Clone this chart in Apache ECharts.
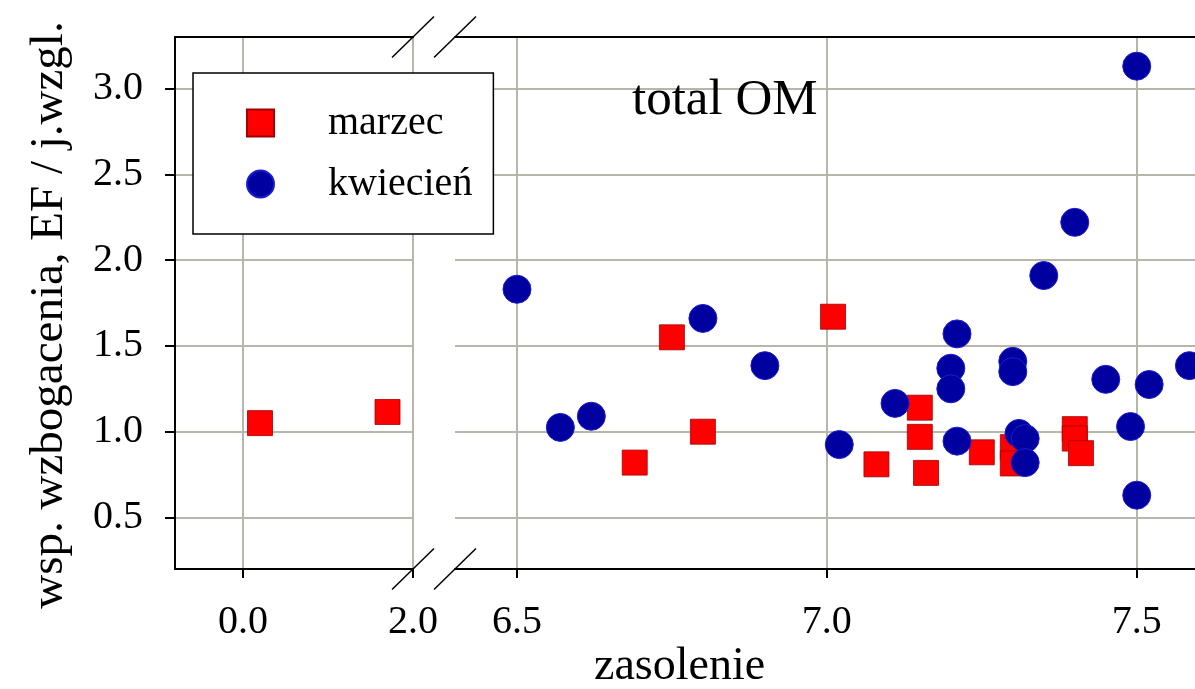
<!DOCTYPE html>
<html><head><meta charset="utf-8">
<script src="https://cdn.jsdelivr.net/npm/echarts@6/dist/echarts.min.js"></script>
<style>html,body{margin:0;padding:0;background:#fff}#c{width:1195px;height:689px}</style>
</head><body><div id="c"></div>
<script>
// ---- data ----
const marzecLeftX  = [0.20, 1.70];
const marzecLeftY  = [1.05, 1.115];
const marzecRightX = [6.69, 6.75, 6.80, 7.01, 7.08, 7.15, 7.15, 7.16, 7.25, 7.30, 7.30, 7.40, 7.40, 7.41];
const marzecRightY = [0.82, 1.55, 1.00, 1.67, 0.81, 1.14, 0.97, 0.76, 0.88, 0.91, 0.815, 1.015, 0.96, 0.875];
const kwiecienX = [6.50, 6.57, 6.62, 6.80, 6.90, 7.02, 7.11, 7.20, 7.20, 7.21, 7.21, 7.30, 7.30, 7.31, 7.32, 7.32, 7.35, 7.40, 7.45, 7.49, 7.50, 7.50, 7.52, 7.585];
const kwiecienY = [1.83, 1.025, 1.09, 1.66, 1.385, 0.925, 1.165, 1.37, 1.25, 1.57, 0.945, 1.41, 1.35, 0.99, 0.96, 0.82, 1.91, 2.22, 1.305, 1.03, 0.63, 3.13, 1.275, 1.385];
const xTicksLeft  = [0, 2];
const xTicksRight = [6.5, 7.0, 7.5];
const yTicks = [0.5, 1.0, 1.5, 2.0, 2.5, 3.0];
const seriesNames = ['marzec', 'kwiecień'];
const titleText = 'total OM';
const xName = 'zasolenie';
const yName = 'wsp. wzbogacenia, EF / j.wzgl.';

// ---- layout / style ----
const FONT = 'Liberation Serif';
const G0 = {left: 175, top: 37, width: 238, height: 532};
const G1 = {left: 455, top: 37, right: 0, height: 532};
const X1_MIN = 6.4, X1_MAX = 7.594;
const GRID_COLOR = '#b6b6aa';
const zip = (xs, ys) => xs.map((x, i) => [x, ys[i]]);
const fmt = v => Number(v).toFixed(1);

function bottomX(gi, min, max, ticks) {
  return {
    type: 'value', gridIndex: gi, position: 'bottom', min: min, max: max,
    axisLine: {show: true, onZero: false, lineStyle: {color: '#000', width: 2}},
    axisTick: {show: true, inside: false, length: 9, customValues: ticks, lineStyle: {color: '#000', width: 2}},
    axisLabel: {show: true, customValues: ticks, formatter: fmt, fontFamily: FONT, fontSize: 40, color: '#000', margin: 33},
    splitLine: {show: true, lineStyle: {color: GRID_COLOR, width: 2}}
  };
}
function topX(gi, min, max) {
  return {
    type: 'value', gridIndex: gi, position: 'top', min: min, max: max,
    axisLine: {show: true, onZero: false, lineStyle: {color: '#000', width: 2}},
    axisTick: {show: false}, axisLabel: {show: false}, splitLine: {show: false}
  };
}
function slash(cx, cy) {
  return {type: 'line', z: 100, silent: true,
    shape: {x1: cx - 21, y1: cy + 20.5, x2: cx + 21, y2: cy - 20.5},
    style: {stroke: '#000', lineWidth: 1.5}};
}
const breakL = G0.left + G0.width, breakR = G1.left;
const topY = G0.top, botY = G0.top + G0.height;

const option = {
  animation: false,
  backgroundColor: '#fff',
  textStyle: {fontFamily: FONT},
  title: [
    {text: titleText, left: 632, top: 75, padding: 0,
     textStyle: {fontFamily: FONT, fontSize: 51, fontWeight: 'normal', color: '#000'}},
    {text: xName, left: 594, top: 644, padding: 0,
     textStyle: {fontFamily: FONT, fontSize: 46, fontWeight: 'normal', color: '#000'}}
  ],
  legend: {
    orient: 'vertical', left: 193, top: 73, padding: [30, 21, 30, 53],
    itemWidth: 27, itemHeight: 27, itemGap: 21,
    borderColor: '#000', borderWidth: 1.5, backgroundColor: '#fff',
    selectedMode: false, data: seriesNames,
    textStyle: {fontFamily: FONT, fontSize: 40, color: '#000', lineHeight: 27, padding: [0, 0, 0, 49]}
  },
  grid: [
    Object.assign({}, G0, {containLabel: false}),
    Object.assign({}, G1, {containLabel: false})
  ],
  xAxis: [
    bottomX(0, -0.8, 2.0, xTicksLeft),
    bottomX(1, X1_MIN, X1_MAX, xTicksRight),
    topX(0, -0.8, 2.0),
    topX(1, X1_MIN, X1_MAX)
  ],
  yAxis: [
    {type: 'value', gridIndex: 0, min: 0.2, max: 3.3,
     name: yName, nameLocation: 'middle', nameRotate: 90, nameGap: 102,
     nameTextStyle: {fontFamily: FONT, fontSize: 47, color: '#000', padding: [0, 24, 0, 0]},
     axisLine: {show: true, onZero: false, lineStyle: {color: '#000', width: 2}},
     axisTick: {show: true, inside: false, length: 10, customValues: yTicks, lineStyle: {color: '#000', width: 2}},
     axisLabel: {show: true, customValues: yTicks, formatter: fmt, fontFamily: FONT, fontSize: 40, color: '#000', margin: 32},
     splitLine: {show: true, lineStyle: {color: GRID_COLOR, width: 2}}},
    {type: 'value', gridIndex: 1, min: 0.2, max: 3.3,
     axisLine: {show: false, onZero: false},
     axisTick: {show: false, customValues: yTicks},
     axisLabel: {show: false, customValues: yTicks},
     splitLine: {show: true, lineStyle: {color: GRID_COLOR, width: 2}}}
  ],
  graphic: [slash(breakL, topY), slash(breakR, topY), slash(breakL, botY), slash(breakR, botY)],
  series: [
    {name: seriesNames[0], type: 'scatter', xAxisIndex: 0, yAxisIndex: 0,
     data: zip(marzecLeftX, marzecLeftY), symbol: 'rect', symbolSize: 25,
     itemStyle: {color: '#ff0000', borderColor: '#a00000', borderWidth: 0.8, opacity: 1},
     emphasis: {disabled: true}, z: 3},
    {name: seriesNames[0], type: 'scatter', xAxisIndex: 1, yAxisIndex: 1,
     data: zip(marzecRightX, marzecRightY), symbol: 'rect', symbolSize: 25,
     itemStyle: {color: '#ff0000', borderColor: '#a00000', borderWidth: 0.8, opacity: 1},
     emphasis: {disabled: true}, z: 3},
    {name: seriesNames[1], type: 'scatter', xAxisIndex: 1, yAxisIndex: 1,
     data: zip(kwiecienX, kwiecienY), symbol: 'circle', symbolSize: 28,
     itemStyle: {color: '#0000a0', borderColor: '#1c1cd0', borderWidth: 1, opacity: 1},
     emphasis: {disabled: true}, z: 4}
  ]
};
const chart = echarts.init(document.getElementById('c'), null, {renderer: 'canvas'});
chart.setOption(option);
</script>
</body></html>
